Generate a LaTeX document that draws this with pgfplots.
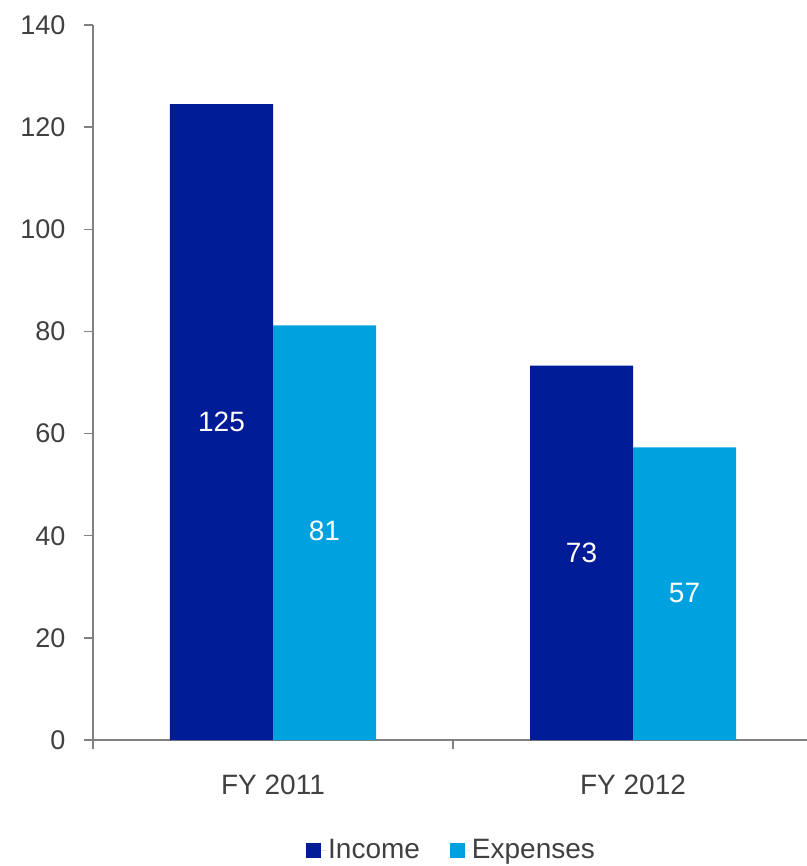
\documentclass[border=0pt]{standalone}
\usepackage{fontspec}
\setmainfont{Liberation Sans}
\usepackage{pgfplots}
\pgfplotsset{compat=1.18}
\usetikzlibrary{calc}
\definecolor{inc}{RGB}{0,27,150}
\definecolor{exp}{RGB}{0,161,223}
\definecolor{axgray}{RGB}{128,128,128}
\definecolor{txt}{RGB}{64,64,64}
\begin{document}
\begin{tikzpicture}
\begin{axis}[
  name=ax,
  scale only axis,
  width=720pt, height=715pt,
  xmin=0, xmax=2, ymin=0, ymax=140,
  axis lines*=left,
  axis line style={axgray, line width=1.5pt},
  ytick={0,20,...,140},
  xtick={0.5,1.5},
  xticklabels={FY 2011, FY 2012},
  minor xtick={0,1,2},
  major x tick style={draw=none},
  minor x tick style={axgray, line width=1.5pt},
  y tick style={axgray, line width=1.5pt},
  tick align=outside,
  major tick length=9pt,
  minor tick length=9pt,
  yticklabel style={font=\fontsize{27}{32}\selectfont, text=txt, xshift=-15pt},
  xticklabel style={font=\fontsize{28}{33}\selectfont, text=txt, yshift=-22pt},
  /pgf/number format/assume math mode=true,
  ybar, bar width=103pt,
  legend style={at={(0.498,-0.154)}, anchor=center, draw=none,
    font=\fontsize{28}{33}\selectfont, text=txt,
    /tikz/every even column/.append style={column sep=28pt}},
  legend columns=2,
  legend image code/.code={\fill[#1] (0pt,-7.5pt) rectangle (15pt,7.5pt); \path (0pt,0pt) -- (20pt,0pt);},
]
\addplot[fill=inc, draw=none, bar shift=-51.5pt] coordinates {(0.5,124.5) (1.5,73.3)};
\addlegendentry{Income}
\addplot[fill=exp, draw=none, bar shift=51.5pt] coordinates {(0.5,81.2) (1.5,57.3)};
\addlegendentry{Expenses}
\addplot[forget plot, draw=none, mark=none, nodes near coords, point meta=explicit symbolic,
  every node near coord/.style={xshift=-51.5pt, anchor=center, text=white, font=\fontsize{28}{33}\selectfont}]
  coordinates {(0.5,62.3)[125] (1.5,36.7)[73]};
\addplot[forget plot, draw=none, mark=none, nodes near coords, point meta=explicit symbolic,
  every node near coord/.style={xshift=51.5pt, anchor=center, text=white, font=\fontsize{28}{33}\selectfont}]
  coordinates {(0.5,40.9)[81] (1.5,28.7)[57]};
\end{axis}
\pgfresetboundingbox
\path[use as bounding box] ($(ax.south west)+(-93pt,-126pt)$) rectangle ($(ax.north east)+(-6pt,25pt)$);
\end{tikzpicture}
\end{document}
